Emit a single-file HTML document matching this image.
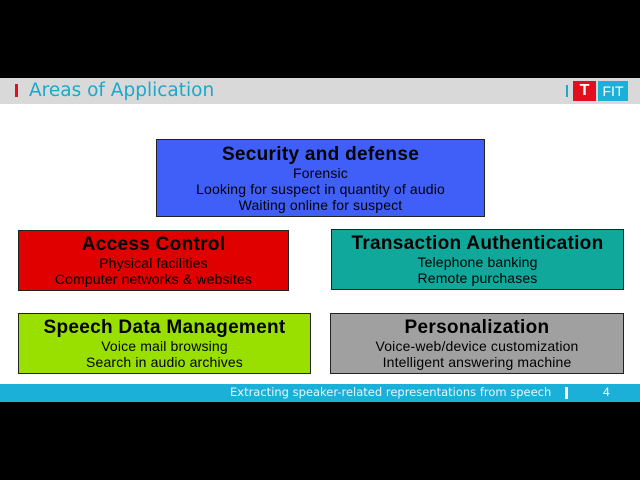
<html><head><style>
body{margin:0;width:640px;height:480px;background:#000;position:relative;overflow:hidden;font-family:"Liberation Sans",sans-serif}
.hd{position:absolute;left:0;top:78px;width:640px;height:26px;background:#d9d9d9}
.wh{position:absolute;left:0;top:104px;width:640px;height:280px;background:#fff}
.ft{position:absolute;left:0;top:384px;width:640px;height:18px;background:#1ab0d8}
.b{position:absolute;border:1px solid #222;box-sizing:border-box;text-align:center;color:#000;font-size:14px;line-height:16px;letter-spacing:0.15px}
.b b{display:block;font-size:19px;line-height:21px;letter-spacing:0.3px}
</style></head><body>
<div class="hd"><div style="position:absolute;left:15px;top:6px;width:3px;height:13px;background:#e0101e"></div>
<div style="position:absolute;left:29px;top:2px;font-family:'DejaVu Sans',sans-serif;font-size:18.5px;color:#1aa8cc">Areas of Application</div>
<div style="position:absolute;left:566px;top:7px;width:2px;height:12px;background:#1aa8cc"></div>
<div style="position:absolute;left:573px;top:3px;width:23px;height:20px;background:#e0101e;color:#fff;font-weight:bold;text-align:center;font-size:16px;line-height:20px">T</div>
<div style="position:absolute;left:598px;top:3px;width:30px;height:20px;background:#1ab0d8;color:#fff;text-align:center;font-size:14px;line-height:20px">FIT</div></div>
<div class="wh"></div>
<div class="b" style="left:156px;top:139px;width:329px;height:78px;background:#3f5ff8;padding-top:4px"><b>Security and defense</b>Forensic<br>Looking for suspect in quantity of audio<br>Waiting online for suspect</div>
<div class="b" style="left:18px;top:230px;width:271px;height:61px;background:#e00000;padding-top:3px"><b>Access Control</b>Physical facilities<br>Computer networks &amp; websites</div>
<div class="b" style="left:331px;top:229px;width:293px;height:61px;background:#10a89a;padding-top:3px"><b>Transaction Authentication</b>Telephone banking<br>Remote purchases</div>
<div class="b" style="left:18px;top:313px;width:293px;height:61px;background:#99df00;padding-top:3px"><b>Speech Data Management</b>Voice mail browsing<br>Search in audio archives</div>
<div class="b" style="left:330px;top:313px;width:294px;height:61px;background:#a0a0a0;padding-top:3px"><b>Personalization</b>Voice-web/device customization<br>Intelligent answering machine</div>
<div class="ft"><div style="position:absolute;left:230px;top:1px;font-family:'DejaVu Sans',sans-serif;font-size:11.5px;color:#e8f8ff;white-space:nowrap">Extracting speaker-related representations from speech</div>
<div style="position:absolute;left:565px;top:3px;width:3px;height:12px;background:#fff"></div>
<div style="position:absolute;left:603px;top:1px;font-size:12px;color:#fff">4</div></div>
</body></html>
